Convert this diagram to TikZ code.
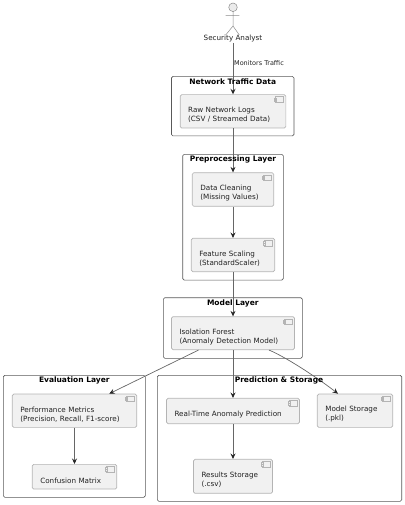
\documentclass[tikz,border=0pt]{standalone}
\usepackage{fontspec}
\setmainfont{DejaVu Sans}
\usepackage{tikz}
\usetikzlibrary{arrows.meta,positioning,calc}
\definecolor{boxfill}{HTML}{F1F1F1}
\definecolor{boxline}{HTML}{B4B4B4}
\definecolor{inkdark}{HTML}{222222}
\tikzset{
  comp/.style 2 args={draw=boxline, fill=boxfill, rounded corners=1.5pt, line width=0.7pt,
    minimum width=#1, text width=#1-16pt, minimum height=#2, inner xsep=8pt, inner ysep=0pt,
    align=left, font=\fontsize{7.2}{9}\selectfont, text=inkdark,
    execute at begin node={\rule{0pt}{13pt}}},
  layer/.style 2 args={draw=black!65, rounded corners=1.5pt, line width=0.6pt,
    minimum width=#1, minimum height=#2, inner sep=0pt},
  layertitle/.style={font=\fontsize{7.5}{9}\selectfont\bfseries, text=black, inner sep=0pt},
  flow/.style={draw=black!60, line width=0.7pt, -{Stealth[length=5.5pt,width=5pt,inset=2pt,black!85]}},
  icon/.style={draw=boxline, fill=boxfill, line width=0.6pt}
}
\begin{document}
\begin{tikzpicture}[x=1pt, y=-1pt]
  \useasboundingbox (0,0) rectangle (404,505);
  % layers
  \node[layer={122.5}{59.5}] (netframe) at (232.7,106.2) {};
  \node[layer={100.6}{125.7}] (preframe) at (233,217.2) {};
  \node[layer={139}{60.6}] (modframe) at (232.8,328) {};
  \node[layer={142}{122}] (evalframe) at (74.3,436.3) {};
  \node[layer={244.4}{126}] (predframe) at (279.5,438.3) {};
  % components
  \node[comp={105.7}{33.3}] (raw) at (233,111.3) {Raw Network Logs\\(CSV / Streamed Data)};
  \node[comp={81.4}{33.6}] (clean) at (233,189.5) {Data Cleaning\\(Missing Values)};
  \node[comp={83.4}{33.4}] (scale) at (233,255) {Feature Scaling\\(StandardScaler)};
  \node[comp={123}{33}] (iso) at (233,333.2) {Isolation Forest\\(Anomaly Detection Model)};
  \node[comp={124.4}{33.3}] (perf) at (74.5,410.7) {Performance Metrics\\(Precision, Recall, F1-score)};
  \node[comp={84.4}{24.7}] (conf) at (74.5,476.7) {Confusion Matrix};
  \node[comp={133}{25.4}] (rtpred) at (233,411) {Real-Time Anomaly Prediction};
  \node[comp={79}{34}] (results) at (233,476.3) {Results Storage\\(.csv)};
  \node[comp={75.4}{33.3}] (store) at (355,410.7) {Model Storage\\(.pkl)};
  % little component icons
  \foreach \n in {raw,clean,scale,iso,perf,conf,rtpred,results,store} {
    \draw[icon] ($(\n.north east)+(-11,2.5)$) rectangle ($(\n.north east)+(-3,8)$);
    \draw[icon] ($(\n.north east)+(-12,3.7)$) rectangle ($(\n.north east)+(-10,4.9)$);
    \draw[icon] ($(\n.north east)+(-12,5.7)$) rectangle ($(\n.north east)+(-10,6.9)$);
  }
  % actor
  \node[draw=black!45, fill=black!8, circle, minimum size=8.6pt, inner sep=0pt, line width=0.5pt] (head) at (233,7.3) {};
  \coordinate (hip) at (233,26);
  \coordinate (armleft) at (225.7,15.3);
  \coordinate (armright) at (239.3,15.3);
  \coordinate (footleft) at (225.7,35);
  \coordinate (footright) at (239.3,35);
  \draw[draw=black!45, line width=0.5pt] (head) -- (hip) (armleft) -- (armright) (footleft) -- (hip) -- (footright);
  \node[font=\fontsize{7.2}{9}\selectfont, text=inkdark, fill=white, inner sep=0.5pt] (analyst) at (233,38.7) {Security Analyst};
  % connectors
  \draw[flow] (analyst) -- node[right, font=\fontsize{6.5}{8}\selectfont, text=inkdark, inner sep=0.8pt, pos=0.4] (monitors) {Monitors Traffic} (raw);
  \draw[flow] (raw) -- (clean);
  \draw[flow] (clean) -- (scale);
  \draw[flow] (scale) -- (iso);
  \draw[flow] (iso) -- (rtpred);
  \draw[flow] (iso) -- (perf);
  \draw[flow] ($(iso.south)+(36,0)$) .. controls ($(iso.south)+(55,8)$) and ($(store.north)+(-35,-14)$) .. ($(store.north)+(-17,0)$);
  \draw[flow] (rtpred) -- (results);
  \draw[flow] (perf) -- (conf);
  % layer titles
  \node[layertitle] (nettitle) at (232.7,81.7) {Network Traffic Data};
  \node[layertitle] (pretitle) at (233,159.7) {Preprocessing Layer};
  \node[layertitle] (modtitle) at (232.8,303) {Model Layer};
  \node[layertitle] (evaltitle) at (74.3,380.7) {Evaluation Layer};
  \node[layertitle] (predtitle) at (279,380.7) {Prediction \& Storage};
\end{tikzpicture}
\end{document}
